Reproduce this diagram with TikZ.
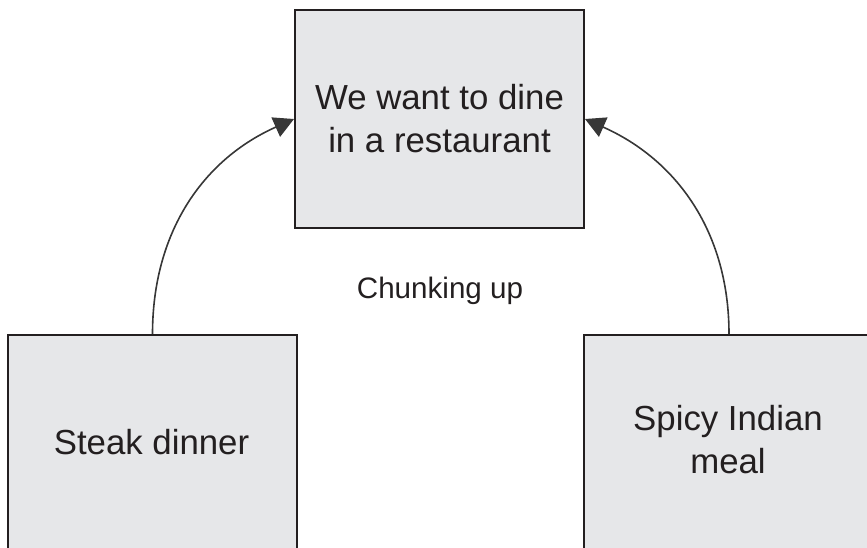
\documentclass[tikz,border=0pt]{standalone}
\usepackage{fontspec}
\setmainfont{Liberation Sans}
\definecolor{boxgray}{RGB}{230,231,233}
\definecolor{inkdark}{RGB}{35,31,32}
\definecolor{arrowgray}{RGB}{55,55,55}
\usetikzlibrary{arrows.meta,positioning}

\begin{document}
\begin{tikzpicture}[x=1pt,y=-1pt,
  card/.style={draw=inkdark,fill=boxgray,line width=2pt,inner sep=0pt},
  cardtext/.style={font=\fontsize{34.8}{43}\selectfont,text=inkdark,align=center},
  chunkarrow/.style={-{Triangle[length=20pt,width=21pt]},line width=1.6pt,arrowgray}]
  \clip (0,0) rectangle (867,547);
  % Goal
  \node[card,cardtext,minimum width=289pt,minimum height=218pt] (goal) at (439.5,119)
    {We want to dine\\in a restaurant};
  % Specific options
  \node[card,minimum width=289pt,minimum height=260pt,anchor=north west] (steakbox) at (7,334) {};
  \node[cardtext] (steak) at (151.5,442) {Steak dinner};
  \node[card,minimum width=290pt,minimum height=260pt,anchor=north west] (spicybox) at (583,334) {};
  \node[cardtext] (spicy) at (728,440) {Spicy Indian\\meal};
  % Label
  \node[font=\fontsize{29.6}{34}\selectfont,text=inkdark] (chunk) at (440,291) {Chunking up};
  % Arrows
  \draw[chunkarrow] (steakbox.north) to[out=90,in=204] (goal.west);
  \draw[chunkarrow] (spicybox.north) to[out=90,in=-24] (goal.east);
\end{tikzpicture}
\end{document}
